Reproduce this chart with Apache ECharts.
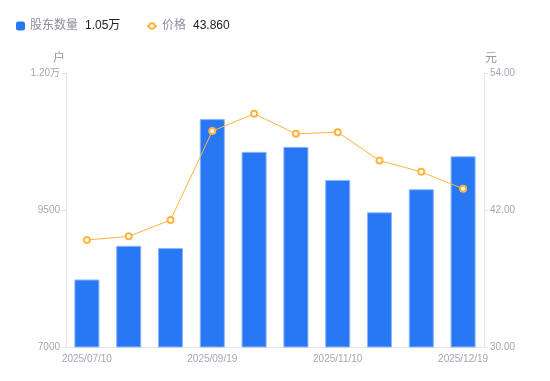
<!DOCTYPE html>
<html>
<head>
    <meta charset="UTF-8">
    <title>股东数量与价格</title>
    <script type="text/javascript" src="https://cdn.jsdelivr.net/npm/echarts@6/dist/echarts.min.js"></script>
</head>
<body style="margin: 0;overflow: hidden;background: #fff;">
<div id="chart" style="width: 550px;height: 381px;"></div>
<script type="text/javascript">
    var dates = ['2025/07/10', '2025/07/31', '2025/08/29', '2025/09/19', '2025/09/30',
        '2025/10/20', '2025/11/10', '2025/11/20', '2025/11/28', '2025/12/19'];
    var holders = [8232, 8847, 8805, 11159, 10561, 10652, 10049, 9458, 9879, 10480];
    var prices = [39.37, 39.69, 41.12, 48.91, 50.43, 48.67, 48.82, 46.33, 45.34, 43.86];
    var leftTicks = [7000, 12000, 2500];   // min, max, interval
    var rightTicks = [30, 54, 12];

    var font = 'Arial, "Noto Sans CJK SC", sans-serif';
    var labelColor = '#a3a6b4';
    var axisColor = '#e4e4e8';
    var barColor = '#2878f5';
    var lineColor = '#ffb43e';

    function fmtHolders(v) {
        if (v >= 10000) {
            return (v / 10000).toFixed(2) + '万';
        }
        return v;
    }

    var lastValues = {
        '股东数量': fmtHolders(holders[holders.length - 1]),
        '价格': prices[prices.length - 1].toFixed(3)
    };

    function legendText(name) {
        return '{n|' + name + '}{v|' + lastValues[name] + '}';
    }
    var legendRich = {
        n: {fontSize: 12, color: '#8c8f9a', fontFamily: font},
        v: {fontSize: 12, color: '#222', padding: [0, 0, 0, 7], fontFamily: font}
    };

    var chart = echarts.init(document.getElementById('chart'));
    var option = {
        animation: false,
        textStyle: {fontFamily: font},
        legend: [{
            left: 11,
            top: 15,
            itemWidth: 9,
            itemHeight: 9,
            data: [{name: '股东数量', icon: 'roundRect', itemStyle: {borderWidth: 0}}],
            formatter: legendText,
            textStyle: {rich: legendRich}
        }, {
            left: 141,
            top: 15,
            itemWidth: 10,
            itemHeight: 7,
            data: ['价格'],
            formatter: legendText,
            textStyle: {rich: legendRich}
        }],
        grid: {
            left: 66,
            right: 66,
            top: 73,
            bottom: 34
        },
        xAxis: {
            type: 'category',
            data: dates,
            axisLine: {lineStyle: {color: axisColor}},
            axisTick: {show: false},
            axisLabel: {
                interval: 2,
                color: labelColor,
                fontSize: 10,
                margin: 7
            }
        },
        yAxis: [{
            type: 'value',
            name: '户',
            nameGap: 8,
            nameTextStyle: {color: '#999', fontSize: 12, padding: [0, 14, 0, 0]},
            min: leftTicks[0],
            max: leftTicks[1],
            interval: leftTicks[2],
            axisLine: {show: true, lineStyle: {color: axisColor}},
            axisTick: {show: true, length: 4, lineStyle: {color: axisColor}},
            splitLine: {show: false},
            axisLabel: {
                color: labelColor,
                fontSize: 10,
                margin: 6,
                formatter: function (v) {
                    return fmtHolders(v);
                }
            }
        }, {
            type: 'value',
            name: '元',
            nameGap: 8,
            nameTextStyle: {color: '#999', fontSize: 12, padding: [0, 0, 0, 14]},
            min: rightTicks[0],
            max: rightTicks[1],
            interval: rightTicks[2],
            axisLine: {show: true, lineStyle: {color: axisColor}},
            axisTick: {show: true, length: 4, lineStyle: {color: axisColor}},
            splitLine: {show: false},
            axisLabel: {
                color: labelColor,
                fontSize: 10,
                margin: 6,
                formatter: function (v) {
                    return v.toFixed(2);
                }
            }
        }],
        series: [{
            name: '股东数量',
            type: 'bar',
            yAxisIndex: 0,
            barWidth: '60%',
            data: holders,
            itemStyle: {
                color: barColor,
                borderColor: '#8fb8f8',
                borderWidth: 1
            }
        }, {
            name: '价格',
            type: 'line',
            yAxisIndex: 1,
            data: prices,
            symbol: 'emptyCircle',
            symbolSize: 6,
            lineStyle: {color: lineColor, width: 1},
            itemStyle: {color: lineColor, borderWidth: 2}
        }]
    };
    chart.setOption(option);
</script>
</body>
</html>
